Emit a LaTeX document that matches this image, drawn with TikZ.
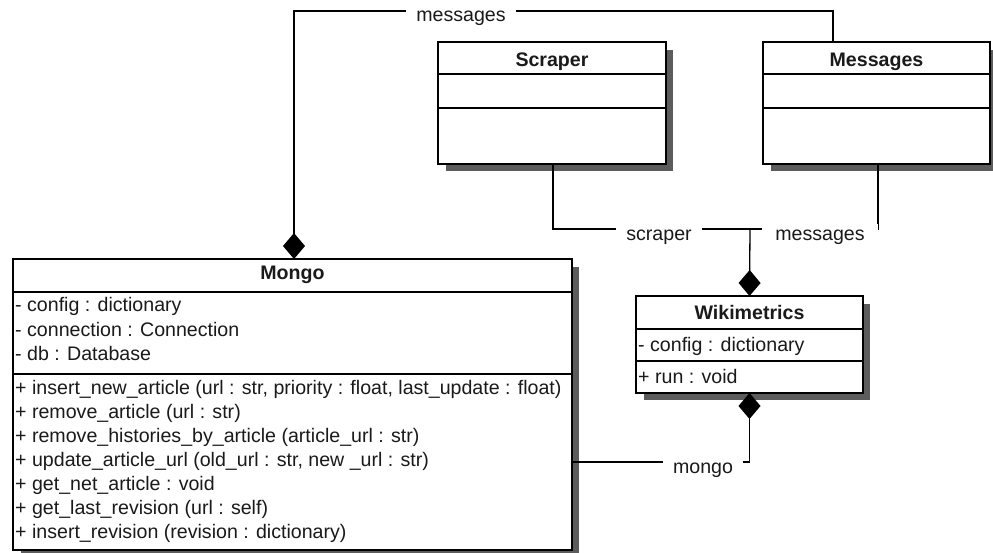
\documentclass[tikz,border=0pt]{standalone}
\usepackage{fontspec}
\setmainfont{Liberation Sans}
\usetikzlibrary{arrows.meta}
\definecolor{shadegrey}{RGB}{92,92,92}
\definecolor{inkblack}{HTML}{1A1A1A}

\begin{document}
\begin{tikzpicture}[x=1pt,y=-1pt,
  font=\fontsize{19.6}{23}\selectfont,
  classbox/.style={draw=black, line width=2.6pt, fill=white, rectangle,
    inner sep=0pt, outer sep=0pt, anchor=north west},
  sepline/.style={line width=2.2pt},
  classname/.style={font=\fontsize{19.6}{23}\selectfont\bfseries, text=inkblack, inner sep=0pt, anchor=base},
  member/.style={text=inkblack, inner sep=0pt, anchor=base west},
  assoc/.style={line width=1.3pt, draw=black},
  composite/.style={assoc, {Diamond[length=26pt,width=22pt]}-},
  composedat/.style={assoc, -{Diamond[length=26pt,width=22pt]}},
  role/.style={fill=white, text=inkblack, inner xsep=10pt, inner ysep=2pt,
    text height=14pt, text depth=4pt, anchor=base}
]
\useasboundingbox (0,0) rectangle (993,552);

% ---------- drop shadows (drawn first, boxes cover them) ----------
\fill[shadegrey] (21,267) rectangle (579,557);
\fill[shadegrey] (446,50) rectangle (673,171);
\fill[shadegrey] (771,50) rectangle (997,171);
\fill[shadegrey] (644,304) rectangle (870,400);

% ---------- classes ----------
\node[classbox, minimum width=559pt, minimum height=291pt] (mongo) at (13,259) {};
\node[classbox, minimum width=228pt, minimum height=122pt] (scraper) at (438,42) {};
\node[classbox, minimum width=227pt, minimum height=122pt] (messages) at (763,42) {};
\node[classbox, minimum width=227pt, minimum height=97pt] (wiki) at (636,296) {};

% compartment separators
\draw[sepline] (mongo.west |- 0,292) -- (mongo.east |- 0,292);
\draw[sepline] (mongo.west |- 0,374) -- (mongo.east |- 0,374);
\draw[sepline] (scraper.west |- 0,74) -- (scraper.east |- 0,74);
\draw[sepline] (scraper.west |- 0,108) -- (scraper.east |- 0,108);
\draw[sepline] (messages.west |- 0,74) -- (messages.east |- 0,74);
\draw[sepline] (messages.west |- 0,108) -- (messages.east |- 0,108);
\draw[sepline] (wiki.west |- 0,329) -- (wiki.east |- 0,329);
\draw[sepline] (wiki.west |- 0,361) -- (wiki.east |- 0,361);

% class names
\node[classname] (mongo-name) at (mongo.north |- 0,279) {Mongo};
\node[classname] (scraper-name) at (scraper.north |- 0,66) {Scraper};
\node[classname] (messages-name) at (messages.north |- 0,66) {Messages};
\node[classname] (wiki-name) at (wiki.north |- 0,319) {Wikimetrics};

% Mongo members
\node[member] (mongo-a1) at (15,311) {- config : dictionary};
\node[member] (mongo-a2) at (15,336) {- connection : Connection};
\node[member] (mongo-a3) at (15,360) {- db : Database};
\node[member] (mongo-m1) at (15,394) {+ insert\_new\_article (url : str, priority : float, last\_update : float)};
\node[member] (mongo-m2) at (15,418) {+ remove\_article (url : str)};
\node[member] (mongo-m3) at (15,442) {+ remove\_histories\_by\_article (article\_url : str)};
\node[member] (mongo-m4) at (15,466) {+ update\_article\_url (old\_url : str, new \_url : str)};
\node[member] (mongo-m5) at (15,490) {+ get\_net\_article : void};
\node[member] (mongo-m6) at (15,514) {+ get\_last\_revision (url : self)};
\node[member] (mongo-m7) at (15,538) {+ insert\_revision (revision : dictionary)};

% Wikimetrics members
\node[member] (wiki-a1) at (638,351) {- config : dictionary};
\node[member] (wiki-m1) at (638,383) {+ run : void};

% ---------- associations ----------
\coordinate (junction) at (750,229);

\draw[composite] (mongo.north -| 294,0) -- ++(0,-248) -| (messages.north -| 833,0);
\draw[assoc] (scraper.south -| 553,0) |- (junction);
\draw[assoc] (messages.south -| 878,0) |- (junction);
\draw[composedat] (junction) -- (wiki.north);
\draw[composedat] (mongo.east |- 0,462) -| (wiki.south);

% role names
\node[role] (role-messages-top) at (461,21) {messages};
\node[role] (role-scraper) at (659,240) {scraper};
\node[role, inner xsep=13pt] (role-messages) at (820,240) {messages};
\node[role] (role-mongo) at (703,473) {mongo};
\end{tikzpicture}
\end{document}
